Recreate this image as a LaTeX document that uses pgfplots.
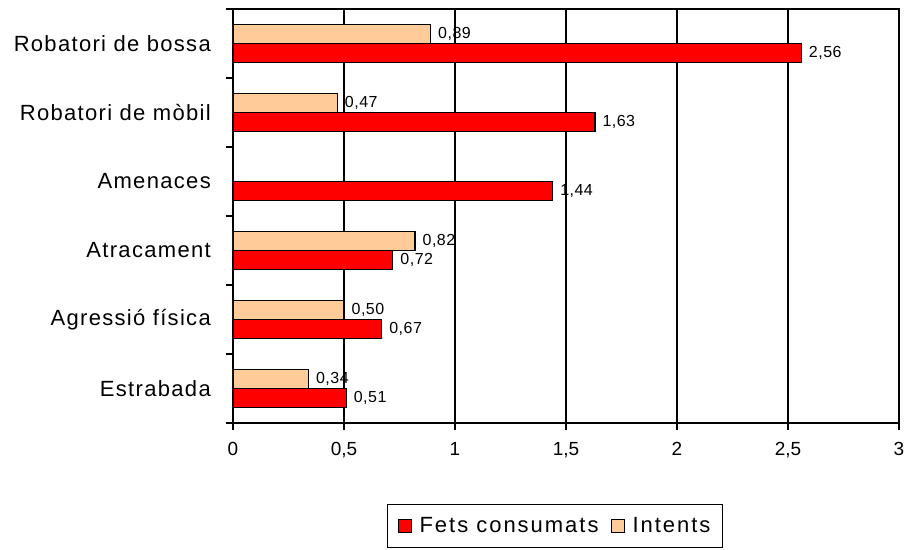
\documentclass[border=0pt]{standalone}
\usepackage{fontspec}
\setmainfont{Liberation Sans}
\newfontfamily\catfont[LetterSpace=6]{Liberation Sans}
\newfontfamily\legfont[LetterSpace=9]{Liberation Sans}
\newfontfamily\valfont[LetterSpace=3]{Liberation Sans}
\usepackage{pgfplots}
\pgfplotsset{compat=1.18}
\definecolor{fetsred}{RGB}{255,0,0}
\definecolor{intentpeach}{RGB}{255,204,153}

\begin{document}
\begin{tikzpicture}
\useasboundingbox (-233pt,-126pt) rectangle (674pt,423pt);
\begin{axis}[
  at={(0,0)}, anchor=south west,
  scale only axis, width=666pt, height=414pt,
  xbar=0pt, bar width=19pt,
  xmin=0, xmax=3, ymin=-0.5, ymax=5.5,
  xtick={0,0.5,...,3},
  ytick={-0.5,0.5,...,5.5},
  y tick label as interval,
  yticklabels={Estrabada, Agressió física, Atracament, Amenaces, Robatori de mòbil, Robatori de bossa},
  xtick pos=lower, ytick pos=left,
  tick align=outside, major tick length=7pt,
  xmajorgrids, ymajorgrids=false,
  grid style={black, line width=1.2pt},
  axis line style={black, line width=1.3pt},
  tick style={black, line width=1.3pt},
  /pgf/number format/assume math mode=true,
  xticklabel style={font=\fontsize{19}{23}\selectfont, inner sep=0pt, anchor=north, yshift=-12pt,
    /pgf/number format/use comma},
  yticklabel style={font=\catfont\fontsize{22}{26}\selectfont, inner sep=0pt, anchor=east, xshift=-15pt},
  nodes near coords,
  nodes near coords style={font=\valfont\fontsize{16}{19}\selectfont, anchor=west, inner sep=0pt, xshift=7pt,
    /pgf/number format/.cd, fixed, fixed zerofill, precision=2, use comma, assume math mode=true},
  legend columns=2,
  legend style={at={(axis description cs:0.4835,-0.1957)}, anchor=north, draw=black, line width=1.3pt,
    font=\legfont\fontsize{22}{26}\selectfont, inner xsep=10pt, inner ysep=11pt,
    /tikz/every odd column/.append style={column sep=6pt},
    /tikz/every even column/.append style={column sep=10pt}},
  legend image code/.code={\draw[#1, line width=1pt] (0pt,-6.5pt) rectangle (13pt,6.5pt);},
]
\addplot[fill=fetsred, draw=black, line width=1.3pt]
  coordinates {(0.51,0) (0.67,1) (0.72,2) (1.44,3) (1.63,4) (2.56,5)};
\addplot[fill=intentpeach, draw=black, line width=1.3pt]
  coordinates {(0.34,0) (0.50,1) (0.82,2) (0.47,4) (0.89,5)};
\legend{Fets consumats, Intents}
\end{axis}
\end{tikzpicture}
\end{document}
